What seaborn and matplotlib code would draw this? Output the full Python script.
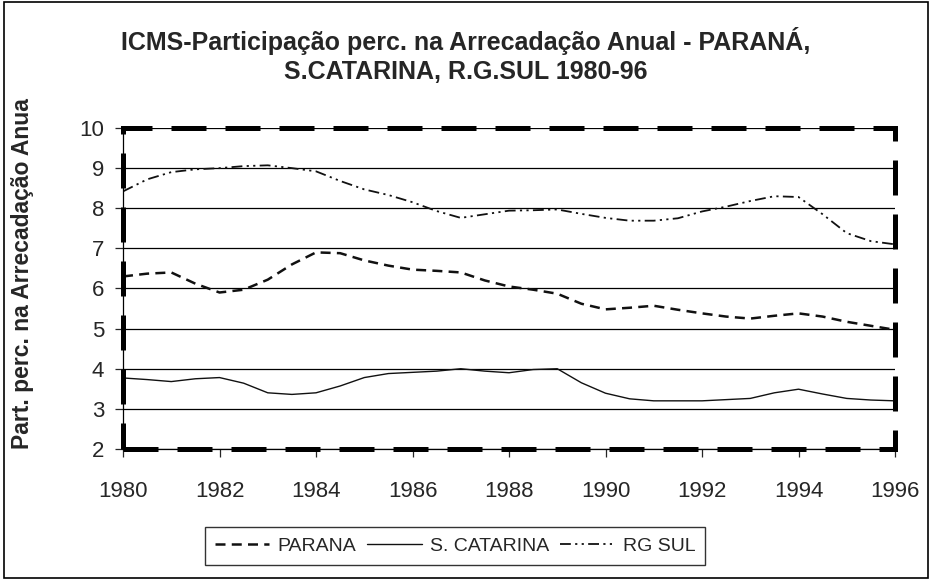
import numpy as np
import pandas as pd
import matplotlib
matplotlib.use('Agg')
import matplotlib.pyplot as plt
from matplotlib.patches import Rectangle
import seaborn as sns

sns.set_style('white')
plt.rcParams['font.family'] = ['Liberation Sans', 'DejaVu Sans']

# semi-annual readings
anos = [1980.0, 1980.5, 1981.0, 1981.5, 1982.0, 1982.5, 1983.0, 1983.5,
        1984.0, 1984.5, 1985.0, 1985.5, 1986.0, 1986.5, 1987.0, 1987.5,
        1988.0, 1988.5, 1989.0, 1989.5, 1990.0, 1990.5, 1991.0, 1991.5,
        1992.0, 1992.5, 1993.0, 1993.5, 1994.0, 1994.5, 1995.0, 1995.5, 1996.0]
parana = [6.30, 6.37, 6.40, 6.12, 5.90, 5.97, 6.22, 6.60,
          6.90, 6.88, 6.70, 6.57, 6.47, 6.44, 6.40, 6.20,
          6.05, 5.97, 5.87, 5.62, 5.48, 5.52, 5.57, 5.47,
          5.38, 5.30, 5.25, 5.32, 5.38, 5.30, 5.17, 5.07, 4.97]
scatarina = [3.77, 3.73, 3.68, 3.75, 3.78, 3.64, 3.40, 3.36,
             3.40, 3.57, 3.78, 3.88, 3.91, 3.94, 4.00, 3.94,
             3.90, 3.98, 4.00, 3.65, 3.39, 3.25, 3.20, 3.20,
             3.20, 3.23, 3.26, 3.40, 3.49, 3.37, 3.26, 3.22, 3.20]
rgsul = [8.42, 8.72, 8.90, 8.97, 9.00, 9.05, 9.07, 9.00,
         8.92, 8.68, 8.47, 8.33, 8.15, 7.93, 7.76, 7.85,
         7.94, 7.95, 7.97, 7.86, 7.76, 7.69, 7.69, 7.75,
         7.92, 8.04, 8.18, 8.30, 8.28, 7.85, 7.38, 7.18, 7.10]

nomes = ['PARANA', 'S. CATARINA', 'RG SUL']
xticks = list(range(1980, 1997, 2))
yticks = list(range(2, 11))

df = pd.DataFrame({'ano': anos, 'PARANA': parana,
                   'S. CATARINA': scatarina, 'RG SUL': rgsul})

fig = plt.figure(figsize=(9.32, 5.8), dpi=100)
ax = fig.add_axes([0.132, 0.2259, 0.8283, 0.5534])

estilos = {
    'PARANA': dict(lw=1.8, ls=(0, (4, 2.5))),
    'S. CATARINA': dict(lw=1.0, ls='-'),
    'RG SUL': dict(lw=1.3, ls=(0, (6, 2.4, 1.2, 2.4, 1.2, 2.4))),
}
for n in nomes:
    sns.lineplot(data=df, x='ano', y=n, ax=ax, color='#111111',
                 label=n, linewidth=estilos[n]['lw'], linestyle=estilos[n]['ls'])

ax.set_xlim(1980, 1996)
ax.set_ylim(2, 10)
ax.set_xticks(xticks)
ax.set_yticks(yticks)
ax.yaxis.grid(True, color='black', lw=0.9)
ax.xaxis.grid(False)
ax.set_axisbelow(True)
for s in ['top', 'right']:
    ax.spines[s].set_visible(False)
for s in ['left', 'bottom']:
    ax.spines[s].set_color('black')
    ax.spines[s].set_linewidth(0.9)
ax.tick_params(axis='x', direction='out', length=6, width=0.9, pad=17,
               labelsize=16, bottom=True)
ax.tick_params(axis='y', direction='out', length=5.5, width=0.9, pad=8,
               labelsize=16, left=True)
ax.set_xlabel('')
ax.set_ylabel('Part. perc. na Arrecadação Anua', fontsize=16.5, fontweight='bold')
ax.yaxis.set_label_coords(-0.1153, 0.548)

# dashed plot-area border
ax.add_patch(Rectangle((0, 0), 1, 1, transform=ax.transAxes, fill=False,
                       lw=3.6, ls=(0, (7, 3.8)), edgecolor='black',
                       clip_on=False, zorder=5))

fig.text(0.5, 1 - 41 / 580, 'ICMS-Participação perc. na Arrecadação Anual - PARANÁ,',
         ha='center', va='center', fontsize=18, fontweight='bold')
fig.text(0.5, 1 - 72 / 580, 'S.CATARINA, R.G.SUL 1980-96',
         ha='center', va='center', fontsize=18, fontweight='bold')

leg = ax.legend(loc='center', bbox_to_anchor=(455 / 932, 1 - 546 / 580),
                bbox_transform=fig.transFigure, ncol=3, fontsize=14,
                frameon=True, fancybox=False, edgecolor='black',
                handlelength=2.8, handletextpad=0.4, columnspacing=0.6,
                borderpad=0.5)
leg.get_frame().set_linewidth(1.0)

fig.patches.append(Rectangle((0.004, 0.004), 0.992, 0.992, transform=fig.transFigure,
                             fill=False, edgecolor='black', lw=1.2))

fig.savefig('out.png', dpi=100)
